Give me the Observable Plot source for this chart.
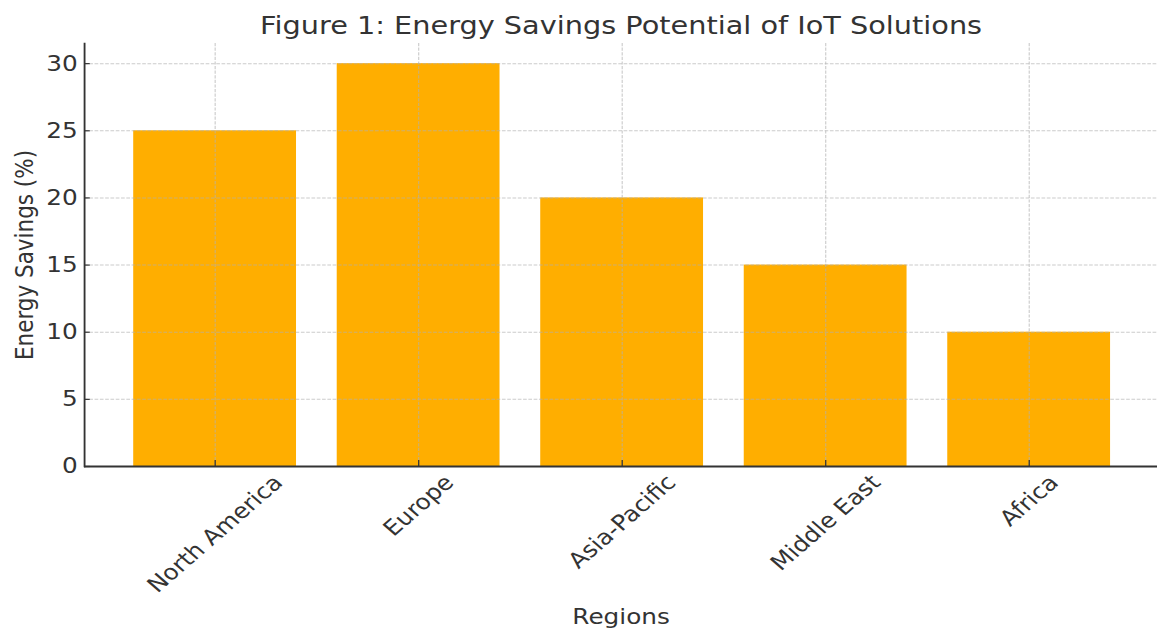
<!DOCTYPE html>
<html>
<head>
<meta charset="utf-8">
<script src="https://cdn.jsdelivr.net/npm/d3@7"></script>
<script src="https://cdn.jsdelivr.net/npm/@observablehq/plot@0.6"></script>
<style>
  html, body { margin: 0; padding: 0; background: #fff; }
</style>
</head>
<body>
<div id="chart"></div>
<script>
const regions = ["North America", "Europe", "Asia-Pacific", "Middle East", "Africa"];
const savings = [25, 30, 20, 15, 10];
const yTicks = [0, 5, 10, 15, 20, 25, 30];
const title = "Figure 1: Energy Savings Potential of IoT Solutions";
const xLabel = "Regions";
const yLabel = "Energy Savings (%)";

const data = regions.map((r, i) => ({region: r, value: savings[i]}));

// The reference is horizontally stretched; draw in logical units then stretch.
const SX = 1.15;
const PW = 1157, H = 630;
const W = PW / SX;
const mL = 84 / SX, mT = 43, mB = 164, mR = 0;
const fs = 21.5;
const font = "DejaVu Sans";
const textColor = "#333333";
const gridStyle = {stroke: "#b0b0b0", strokeOpacity: 0.65, strokeWidth: 1, strokeDasharray: "3.2,1.4"};

const ctx = document.createElement("canvas").getContext("2d");
ctx.font = `${fs}px '${font}'`;
const labelMarks = regions.map(r => {
  const w = ctx.measureText(r).width;
  const h = (w + 0.85 * fs) / Math.SQRT2;
  return Plot.text([r], {
    x: d => d, frameAnchor: "bottom", dy: 6 + h / 2,
    rotate: -45, textAnchor: "middle", lineAnchor: "middle",
    fontSize: fs, fill: textColor, text: d => d
  });
});

const chart = Plot.plot({
  width: W, height: H,
  marginLeft: mL, marginTop: mT, marginBottom: mB, marginRight: mR,
  style: {fontFamily: font, color: textColor, background: "#fff"},
  x: {domain: regions, range: [84.36 / SX, 1158.9 / SX], paddingInner: 0.2, paddingOuter: 0.24, round: false, axis: null},
  y: {domain: [0, 31.5], axis: null},
  marks: [
    Plot.barY(data, {x: "region", y: "value", fill: "#ffae00"}),
    Plot.ruleY(yTicks, {y: d => d, ...gridStyle}),
    Plot.ruleX(regions, {x: d => d, ...gridStyle}),
    Plot.tickY(yTicks, {y: d => d, stroke: "#333", strokeWidth: 1.2, insetRight: W - mL - mR - 5}),
    Plot.tickX(regions, {x: d => d, stroke: "#333", strokeWidth: 1.1, insetTop: (H - mB - mT) - 6}),
    Plot.frame({anchor: "left", stroke: "#333", strokeWidth: 1.6}),
    Plot.ruleY([0], {stroke: "#333", strokeWidth: 1.8}),
    Plot.axisY({ticks: yTicks, tickSize: 0, tickPadding: 6, fontSize: fs, label: null, fill: textColor}),
    ...labelMarks,
    Plot.text([yLabel], {frameAnchor: "left", dx: -52, rotate: -90, textAnchor: "middle", lineAnchor: "middle", fontSize: fs, fill: textColor, text: d => d}),
    Plot.text([xLabel], {frameAnchor: "bottom", dy: 150.5, textAnchor: "middle", lineAnchor: "middle", fontSize: fs, fill: textColor, text: d => d}),
    Plot.text([title], {frameAnchor: "top", dy: -18, textAnchor: "middle", lineAnchor: "middle", fontSize: 25, fill: textColor, text: d => d})
  ]
});
chart.setAttribute("width", PW);
chart.setAttribute("height", H);
chart.setAttribute("preserveAspectRatio", "none");
chart.style.width = PW + "px";
chart.style.height = H + "px";
chart.style.maxWidth = "none";
document.getElementById("chart").appendChild(chart);
</script>
</body>
</html>
